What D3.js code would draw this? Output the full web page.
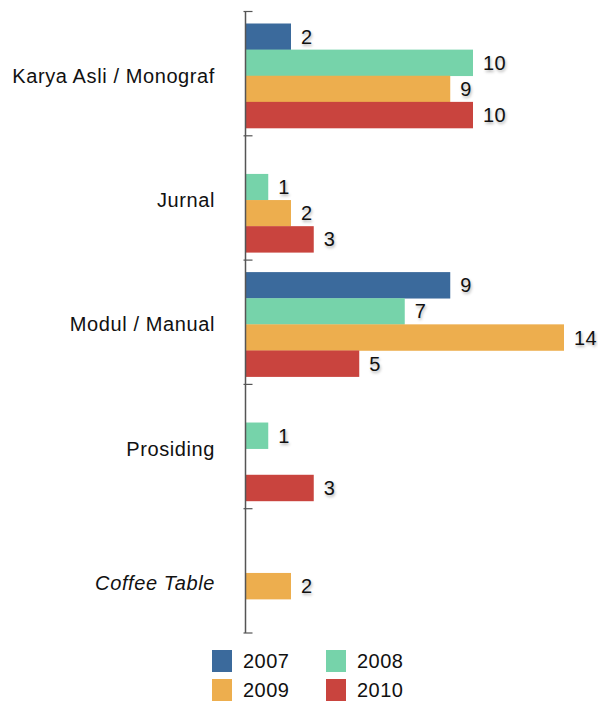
<!DOCTYPE html>
<html lang="en">
<head>
<meta charset="UTF-8">
<title></title>
<script src="https://cdn.jsdelivr.net/npm/d3@7"></script>
<style>
  body { margin: 0; background: #fff; }
  text { font-family: "Liberation Sans", Arial, Helvetica, sans-serif; }
  .val { text-shadow: 1px 2px 3px rgba(0,0,0,0.3); }
</style>
</head>
<body>
<svg class="chart"></svg>
<script>
    // data
    const categories = ["Karya Asli / Monograf", "Jurnal", "Modul / Manual", "Prosiding", "Coffee Table"];
    const years = ["2007", "2008", "2009", "2010"];
    const v2007 = [2, null, 9, null, null];
    const v2008 = [10, 1, 7, 1, null];
    const v2009 = [9, 2, 14, null, 2];
    const v2010 = [10, 3, 5, 3, null];
    const colors = ["#3b6a9c", "#76d3aa", "#edae4e", "#c9443e"];

    const series = [v2007, v2008, v2009, v2010];

    const svgWidth = 598;
    const svgHeight = 701;
    const axisX = 245.5;

    const svg = d3.select(".chart")
        .attr("width", svgWidth)
        .attr("height", svgHeight);

    // scales
    const x = d3.scaleLinear().domain([0, 14]).range([axisX, 564]);
    const y0 = d3.scaleBand().domain(categories).range([11.5, 633]).padding(0);
    const y1 = d3.scaleBand().domain(years).range([12, 116.5]).padding(0);

    const cells = [];
    categories.forEach((c, i) => {
        years.forEach((yr, j) => {
            const v = series[j][i];
            if (v != null) cells.push({ cat: c, year: yr, value: v, color: colors[j] });
        });
    });

    // bars
    svg.append("g").selectAll("rect")
        .data(cells)
        .join("rect")
        .attr("x", axisX)
        .attr("y", d => y0(d.cat) + y1(d.year))
        .attr("width", d => x(d.value) - axisX)
        .attr("height", y1.bandwidth() + 0.3)
        .attr("fill", d => d.color);

    // value labels
    svg.append("g").selectAll("text")
        .data(cells)
        .join("text")
        .attr("class", "val")
        .attr("x", d => x(d.value) + 10)
        .attr("y", d => y0(d.cat) + y1(d.year) + y1.bandwidth() / 2)
        .attr("dy", "0.36em")
        .attr("font-size", 20)
        .attr("letter-spacing", 0.5)
        .attr("fill", "#111")
        .text(d => d.value);

    // axis (ticks at category boundaries)
    const bounds = categories.map(c => y0(c)).concat([y0.range()[1]]);
    const axis = svg.append("g");
    axis.append("line")
        .attr("x1", axisX).attr("x2", axisX)
        .attr("y1", bounds[0]).attr("y2", bounds[bounds.length - 1])
        .attr("stroke", "#555").attr("stroke-width", 1.5);
    axis.selectAll(".tick")
        .data(bounds)
        .join("line")
        .attr("x1", axisX - 2).attr("x2", axisX + 7)
        .attr("y1", d => d).attr("y2", d => d)
        .attr("stroke", "#555").attr("stroke-width", 1.2);

    // category labels
    svg.append("g").selectAll("text")
        .data(categories)
        .join("text")
        .attr("x", 215)
        .attr("y", d => y0(d) + y0.bandwidth() / 2 + (d === "Coffee Table" ? 12 : 2))
        .attr("dy", "0.36em")
        .attr("text-anchor", "end")
        .attr("font-size", 20)
        .attr("letter-spacing", 0.6)
        .attr("font-style", d => d === "Coffee Table" ? "italic" : "normal")
        .attr("fill", "#111")
        .text(d => d);

    // legend
    const legend = svg.append("g").selectAll("g")
        .data(years)
        .join("g")
        .attr("transform", (d, i) => `translate(${212 + (i % 2) * 114},${650 + Math.floor(i / 2) * 29})`);
    legend.append("rect")
        .attr("width", 20).attr("height", 22)
        .attr("fill", (d, i) => colors[i]);
    legend.append("text")
        .attr("x", 31).attr("y", 11)
        .attr("dy", "0.36em")
        .attr("font-size", 20)
        .attr("letter-spacing", 0.5)
        .attr("fill", "#111")
        .text(d => d);
</script>
</body>
</html>
